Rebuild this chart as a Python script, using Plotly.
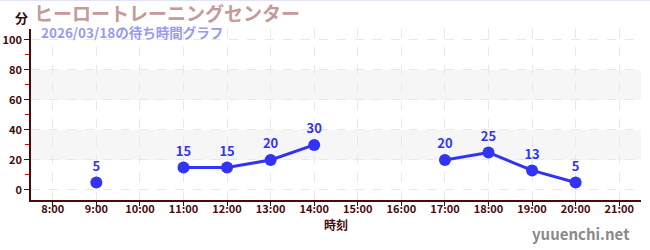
import plotly.graph_objects as go

hours = [9, 10, 11, 12, 13, 14, 15, 16, 17, 18, 19, 20]
waits = [5, None, 15, 15, 20, 30, None, None, 20, 25, 13, 5]
tick_vals = list(range(8, 22))
tick_text = [f"{h}:00" for h in tick_vals]
y_ticks = [0, 20, 40, 60, 80, 100]
bands = [(20, 40), (60, 80)]

title = "ヒーロートレーニングセンター"
subtitle = "2026/03/18の待ち時間グラフ"
unit = "分"
xtitle = "時刻"
watermark = "yuuenchi.net"

FONT = "Noto Sans CJK JP"
AX = "#4a0a0a"
BLUE = "#3333f5"

fig = go.Figure()
fig.add_trace(go.Scatter(
    x=hours, y=waits, mode="lines+markers+text",
    text=[str(v) if v is not None else "" for v in waits],
    textposition="top center",
    textfont=dict(family=FONT, size=13, color=BLUE, weight="bold"),
    line=dict(color=BLUE, width=3),
    marker=dict(color=BLUE, size=12),
    connectgaps=False, cliponaxis=False, hoverinfo="skip",
))

shapes = []
for a, b in bands:
    shapes.append(dict(type="rect", xref="paper", yref="y", x0=0, x1=1, y0=a, y1=b,
                       fillcolor="#f6f6f6", line=dict(width=0), layer="below"))
shapes.append(dict(type="line", xref="paper", yref="paper", x0=-0.1, x1=1.1,
                   y0=1 + 28.5 / 171, y1=1 + 28.5 / 171, line=dict(color="#e4e4f8", width=1)))
fig.update_layout(shapes=shapes)

fig.update_layout(
    width=650, height=250,
    margin=dict(l=31, r=9, t=29, b=50, autoexpand=False),
    paper_bgcolor="white", plot_bgcolor="white",
    showlegend=False,
    font=dict(family=FONT, color=AX),
    xaxis=dict(
        range=[7.5, 21.5], tickvals=tick_vals, ticktext=tick_text,
        showline=True, linecolor=AX, linewidth=1.5,
        ticks="outside", ticklen=4, tickcolor=AX,
        ticklabelstandoff=-6,
        tickfont=dict(family=FONT, size=11, color=AX, weight="bold"),
        showgrid=True, gridcolor="#e8e8e8", griddash="dash", gridwidth=1,
        zeroline=False, fixedrange=True, automargin=False,
        title=dict(text=xtitle, font=dict(family=FONT, size=12, color=AX, weight="bold"), standoff=6),
    ),
    yaxis=dict(
        range=[-6.7, 107.3], tickvals=y_ticks,
        showline=True, linecolor=AX, linewidth=1.5,
        ticks="outside", ticklen=5, tickcolor=AX,
        tickfont=dict(family=FONT, size=11, color=AX, weight="bold"),
        showgrid=True, gridcolor="#e8e8e8", griddash="dash", gridwidth=1,
        zeroline=False, fixedrange=True, automargin=False,
        minor=dict(tickvals=[10, 30, 50, 70, 90], ticks="outside", ticklen=4,
                   tickcolor="#dd0000", showgrid=False),
    ),
    annotations=[
        dict(text=unit, xref="paper", yref="paper", x=-31 / 610 + 13 / 610, y=1 + 11 / 171,
             xanchor="left", yanchor="middle", showarrow=False,
             font=dict(family=FONT, size=13, color="#3a0a0a", weight="bold")),
        dict(text=title, xref="paper", yref="paper", x=1 / 610, y=1 + 17 / 171,
             xanchor="left", yanchor="middle", showarrow=False,
             font=dict(family=FONT, size=19, color="#c49a9a", weight="bold")),
        dict(text=subtitle, xref="paper", yref="paper", x=8 / 610, y=1 - 3 / 171,
             xanchor="left", yanchor="middle", showarrow=False,
             font=dict(family=FONT, size=13.5, color="#9a9af0", weight="bold")),
        dict(text=watermark, xref="paper", yref="paper", x=1 - 9 / 610, y=-34 / 171,
             xanchor="right", yanchor="middle", showarrow=False,
             font=dict(family=FONT, size=15, color="#8a8a8a", weight="bold")),
    ],
)

fig.write_html("out.html")
